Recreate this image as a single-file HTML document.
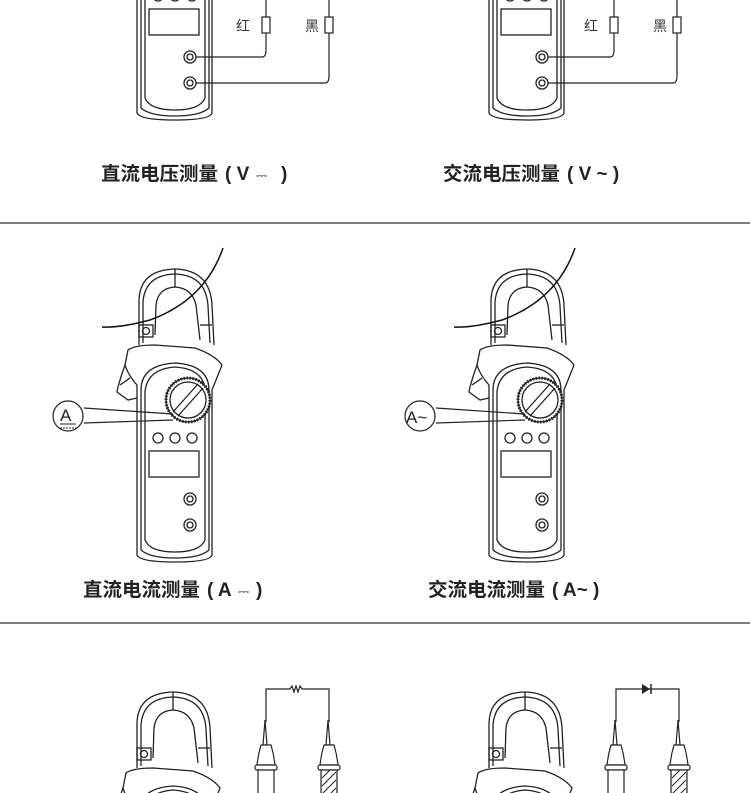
<!DOCTYPE html>
<html><head><meta charset="utf-8"><style>
html,body{margin:0;padding:0;background:#fff;width:750px;height:793px;overflow:hidden;}
svg{display:block;}
text{font-family:"Liberation Sans","Noto Sans CJK SC",sans-serif;}
</style></head><body>
<svg width="750" height="793" viewBox="0 0 750 793" xmlns="http://www.w3.org/2000/svg">
<defs>
<g id="m" fill="none" stroke="#222" stroke-width="1.3">
  <path d="M139,345 L139,300 Q140,270 175,269 Q210,270 212,305 L214,345" fill="#fff"/>
  <path d="M143,343 L143,302 Q145,275 175,274 Q206,275 208,306 L210,343"/>
  <path d="M155,335 L156,305 Q158,288 175,287 Q192,288 196,305 L200,340"/>
  <line x1="175" y1="269" x2="175" y2="287"/>
  <line x1="200" y1="325" x2="212" y2="325"/>
  <rect x="139" y="325" width="14" height="12"/>
  <circle cx="146" cy="331" r="3.5"/>
  <path d="M128,350 Q135,345 155,345 L195,348 Q215,355 222,365 L212,390 L212,555 Q210,562 175,562 Q140,562 137,555 L137,385 Q128,375 125,365 Z" fill="#fff"/>
  <path d="M125,365 Q118,385 117,392 L128,400 L137,398"/>
  <path d="M120,385 L130,378"/>
  <path d="M141,390 Q141,365 175,363 Q209,365 209,390 L209,550 Q200,558 175,558 Q150,558 141,550 Z"/>
  <path d="M145,392 Q147,369 175,367 Q205,369 205,392 L205,540 Q200,552 175,552 Q150,552 145,540 Z"/>
  <circle cx="188" cy="400" r="22" fill="#fff"/>
  <circle cx="188" cy="400" r="22" stroke-width="3" stroke-dasharray="1.5,1.5"/>
  <circle cx="188" cy="400" r="18"/>
  <path d="M173,412 L198,384 M178,416 L203,388"/>
  <circle cx="158" cy="438" r="5"/><circle cx="175" cy="438" r="5"/><circle cx="192" cy="438" r="5"/>
  <rect x="149" y="451" width="50" height="26"/>
  <circle cx="190" cy="499" r="6"/><circle cx="190" cy="499" r="3"/>
  <circle cx="190" cy="525" r="6"/><circle cx="190" cy="525" r="3"/>
</g>
<g id="probe" fill="#fff" stroke="#222" stroke-width="1.2">
  <path d="M-1,720 L-3,745 L1,745 Z"/>
  <path d="M-5,745 Q-8,755 -9,765 L9,765 Q8,755 5,745 Z"/>
  <rect x="-11" y="765" width="22" height="5" rx="2"/>
  <rect x="-8" y="770" width="16" height="30"/>
</g>
</defs>

<use href="#m" transform="translate(0,-442)"/>
<use href="#m" transform="translate(352,-442)"/>
<g fill="none" stroke="#222" stroke-width="1.2">
  <path d="M196,57 L262,57 Q266,57 266,50 L266,33"/>
  <path d="M196,83 L325,83 Q329,83 329,76 L329,33"/>
  <rect x="262" y="17" width="8" height="16"/><rect x="325" y="17" width="8" height="16"/>
  <line x1="266" y1="0" x2="266" y2="17"/><line x1="329" y1="0" x2="329" y2="17"/>
  <path d="M548,57 L610,57 Q614,57 614,50 L614,33"/>
  <path d="M548,83 L673,83 Q677,83 677,76 L677,33"/>
  <rect x="610" y="17" width="8" height="16"/><rect x="673" y="17" width="8" height="16"/>
  <line x1="614" y1="0" x2="614" y2="17"/><line x1="677" y1="0" x2="677" y2="17"/>
</g>
<text x="236" y="31" font-size="14" fill="#333">红</text>
<text x="305" y="31" font-size="14" fill="#333">黑</text>
<text x="584" y="31" font-size="14" fill="#333">红</text>
<text x="653" y="31" font-size="14" fill="#333">黑</text>
<text x="101" y="180" font-size="19" font-weight="bold" fill="#222" textLength="117" lengthAdjust="spacingAndGlyphs">直流电压测量</text>
<text x="225" y="180" font-size="19" font-weight="bold" fill="#222">(  V</text>
<text x="256" y="180" font-size="14" fill="#222">⎓</text>
<text x="281" y="180" font-size="19" font-weight="bold" fill="#222">)</text>
<text x="443" y="180" font-size="19" font-weight="bold" fill="#222" textLength="117" lengthAdjust="spacingAndGlyphs">交流电压测量</text>
<text x="567" y="180" font-size="19" font-weight="bold" fill="#222">(  V  ~  )</text>
<line x1="0" y1="223" x2="750" y2="223" stroke="#333" stroke-width="1.2"/>

<use href="#m"/>
<use href="#m" transform="translate(352,0)"/>
<g fill="none" stroke="#111" stroke-width="1.5">
  <path d="M223,248 Q205,300 150,320 Q120,328 102,327"/>
  <path d="M575,248 Q557,300 502,320 Q472,328 454,327"/>
</g>
<g fill="#fff" stroke="#222" stroke-width="1.2">
  <path d="M84,408 L173,414 M84,423 L173,420"/>
  <circle cx="68" cy="416" r="15"/>
  <path d="M436,408 L525,414 M436,423 L525,420"/>
  <circle cx="420" cy="416" r="15"/>
</g>
<text x="60" y="421" font-size="17" fill="#222">A</text>
<line x1="60" y1="424" x2="76" y2="424" stroke="#222"/>
<line x1="60" y1="428" x2="76" y2="428" stroke="#222" stroke-dasharray="2,1"/>
<text x="406" y="423" font-size="17" fill="#222">A~</text>
<text x="83" y="596" font-size="19" font-weight="bold" fill="#222" textLength="117" lengthAdjust="spacingAndGlyphs">直流电流测量</text>
<text x="207" y="596" font-size="19" font-weight="bold" fill="#222">(  A</text>
<text x="238" y="596" font-size="14" fill="#222">⎓</text>
<text x="256" y="596" font-size="19" font-weight="bold" fill="#222">)</text>
<text x="428" y="596" font-size="19" font-weight="bold" fill="#222" textLength="117" lengthAdjust="spacingAndGlyphs">交流电流测量</text>
<text x="552" y="596" font-size="19" font-weight="bold" fill="#222">(  A~  )</text>
<line x1="0" y1="623" x2="750" y2="623" stroke="#333" stroke-width="1.2"/>

<use href="#m" transform="translate(-2,423)"/>
<use href="#m" transform="translate(350,423)"/>
<g fill="none" stroke="#222" stroke-width="1.2">
  <path d="M266,722 L266,689 L290,689 l2,-3 l2,6 l2,-6 l2,6 l2,-6 l2,3 L329,689 L329,722"/>
  <path d="M616,722 L616,689 L679,689 L679,722"/>
</g>
<path d="M642,684 L642,694 L650,689 Z" fill="#222"/>
<line x1="651" y1="684" x2="651" y2="694" stroke="#222" stroke-width="1.5"/>
<use href="#probe" transform="translate(266,0)"/>
<use href="#probe" transform="translate(329,0)"/>
<use href="#probe" transform="translate(616,0)"/>
<use href="#probe" transform="translate(679,0)"/>
<g stroke="#222" stroke-width="1">
  <path d="M322,778 l8,-8 M322,786 l14,-14 M322,794 l14,-14 M328,796 l8,-8"/>
  <path d="M672,778 l8,-8 M672,786 l14,-14 M672,794 l14,-14 M678,796 l8,-8"/>
</g>
</svg>
</body></html>
